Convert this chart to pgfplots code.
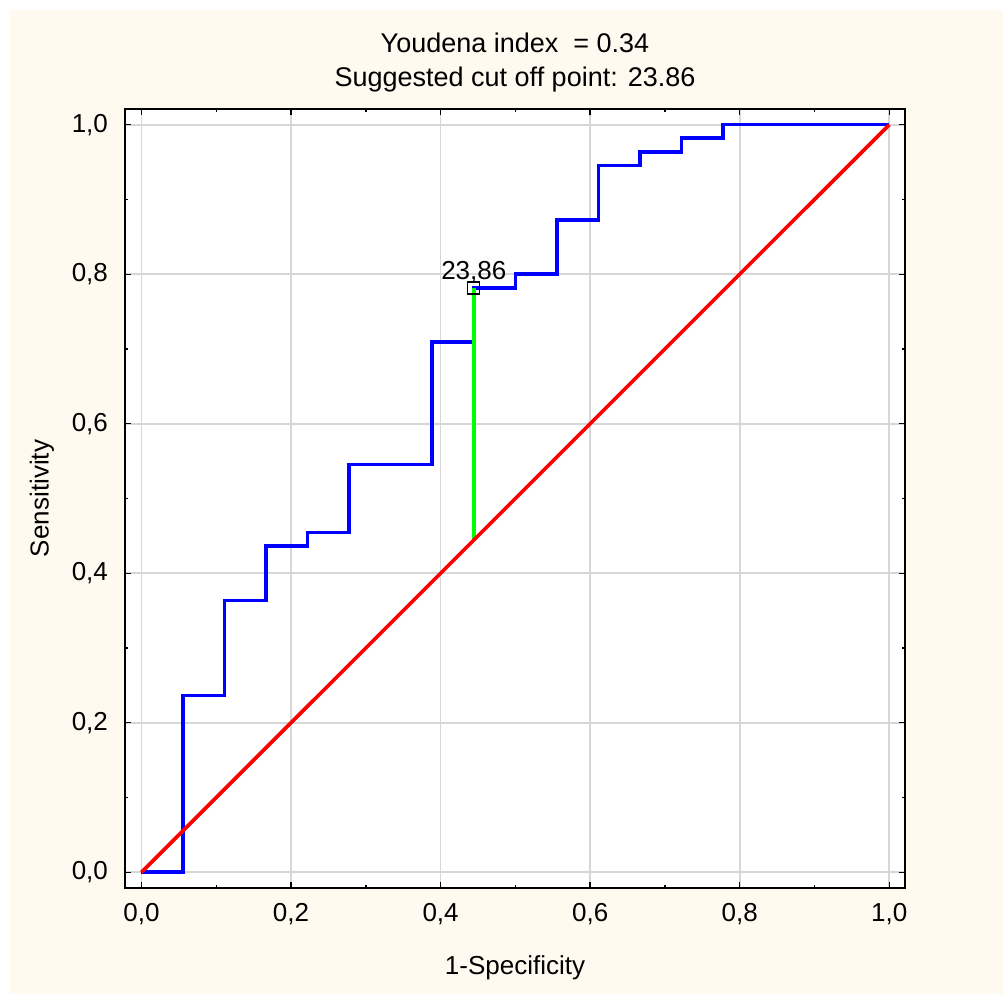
\documentclass[border=0pt]{standalone}
\usepackage{fontspec}
\setmainfont{Liberation Sans}
\usepackage{pgfplots}
\pgfplotsset{compat=1.18}

\definecolor{bgcream}{RGB}{255,250,240}
\definecolor{gridgray}{RGB}{215,215,215}

\begin{document}
\fontsize{13}{17}\selectfont
\begin{tikzpicture}
% page background (1 px = 0.5 pt)
\fill[white] (-62.5pt,-53pt) rectangle (439pt,444pt);
\fill[bgcream] (-57.5pt,-53pt) rectangle (439pt,439pt);
\useasboundingbox (-62.5pt,-53pt) rectangle (439pt,444pt);
\begin{axis}[
   at={(0,0)}, anchor=south west,
   scale only axis,
   width=390pt, height=389.5pt,
   xmin=-0.022, xmax=1.021,
   ymin=-0.021, ymax=1.021,
   xtick={0,0.2,...,1.0}, ytick={0,0.2,...,1.0},
   minor xtick={0.1,0.3,...,0.9}, minor ytick={0.1,0.3,...,0.9},
   tick align=inside,
   major tick length=3pt, minor tick length=1.5pt,
   tick style={black, line width=0.7pt},
   axis line style={black, line width=0.8pt},
   axis background/.style={fill=white},
   grid=major, grid style={gridgray, line width=0.9pt},
   /pgf/number format/.cd, use comma, fixed, fixed zerofill, precision=1,
   assume math mode=true,
   /pgfplots/.cd,
   ticklabel style={font=\fontsize{13}{15}\selectfont},
   xticklabel style={yshift=-3pt},
   yticklabel style={xshift=-4pt},
   title={Youdena index\ \ = 0.34\\Suggested cut off point: 23.86},
   title style={at={(0.5,1)}, anchor=south, yshift=-2pt, align=center,
                font=\fontsize{13.5}{17}\selectfont},
   xlabel={1-Specificity},
   ylabel={Sensitivity},
   xlabel style={at={(axis description cs:0.5,0)}, anchor=center, yshift=-40pt,
                 font=\fontsize{13}{15}\selectfont},
   ylabel style={at={(axis description cs:0,0.5)}, anchor=center,
                 yshift=41.5pt, font=\fontsize{13}{15}\selectfont},
   clip=false,
   ]
%% ROC curve
\addplot[color=blue, line width=1.8pt, line join=miter] coordinates {
  (0,0) (0.0556,0) (0.0556,0.2364) (0.1111,0.2364) (0.1111,0.3636)
  (0.1667,0.3636) (0.1667,0.4364) (0.2222,0.4364) (0.2222,0.4545)
  (0.2778,0.4545) (0.2778,0.5455) (0.3889,0.5455) (0.3889,0.7091)
  (0.4444,0.7091) (0.4444,0.7818) (0.5,0.7818) (0.5,0.8) (0.5556,0.8)
  (0.5556,0.8727) (0.6111,0.8727) (0.6111,0.9455) (0.6667,0.9455)
  (0.6667,0.9636) (0.7222,0.9636) (0.7222,0.9818) (0.7778,0.9818)
  (0.7778,1) (1,1)};
%% Youden distance
\addplot[color=green, line width=1.8pt] coordinates {(0.4444,0.4444) (0.4444,0.7818)};
%% reference line
\addplot[color=red, line width=1.8pt] coordinates {(0,0) (1,1)};
%% cut off point
\addplot[only marks, mark=square, mark size=3pt, mark options={black, line width=0.7pt}]
  coordinates {(0.4444,0.7818)};
\node[anchor=base, yshift=4pt, inner sep=0pt] at (axis cs:0.4444,0.7818) {23,86};
\end{axis}
\end{tikzpicture}
\end{document}
